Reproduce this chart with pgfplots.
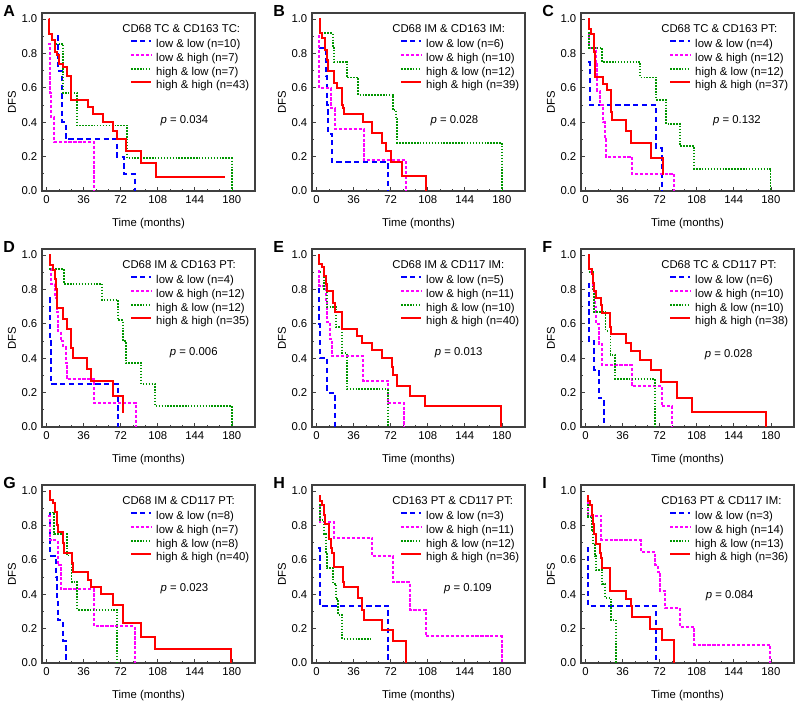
\documentclass[border=0pt]{standalone}
\usepackage{pgfplots}
\pgfplotsset{compat=1.18}
\usepackage{fontspec}
\setmainfont{Liberation Sans}

\definecolor{kmblue}{RGB}{0,0,255}
\definecolor{kmmag}{RGB}{255,0,255}
\definecolor{kmgreen}{RGB}{0,150,0}
\definecolor{kmred}{RGB}{255,0,0}
\newcommand{\fs}{\fontsize{8.5}{10}\selectfont}

\pgfplotsset{
  km/.style={
    scale only axis, width=159.75pt, height=133.5pt, anchor=south west,
    clip mode=individual,
    xmin=-4.5, xmax=202.5, ymin=0, ymax=1.035,
    xtick={0,36,72,108,144,180}, xticklabels={0,36,72,108,144,180},
    ytick={0,0.2,0.4,0.6,0.8,1.0}, yticklabels={0.0,0.2,0.4,0.6,0.8,1.0},
    minor x tick num=2, minor y tick num=1,
    tick align=inside, tick pos=left,
    major tick length=3pt, minor tick length=1.6pt,
    tick style={black!75, line width=0.5pt},
    axis line style={black!75, line width=0.8pt},
    ticklabel style={font=\fs}, label style={font=\fs},
    xlabel={Time (months)}, ylabel={DFS},
    xlabel style={at={(axis description cs:0.5,-0.185)}, anchor=center},
    ylabel style={at={(axis description cs:-0.141,0.5)}, anchor=center},
    legend style={draw=none, fill=none, font=\fs, inner sep=0pt,
      at={(axis description cs:0.413,0.855)}, anchor=north west,
      row sep=2pt, nodes={inner sep=0pt, text height=6.5pt, text depth=1.8pt},
      /tikz/every odd column/.append style={column sep=3pt}},
    legend cell align=left,
    legend image code/.code={\draw[#1] (0pt,2.6pt) -- (15pt,2.6pt);},
  },
  lb/.style={kmblue, line width=1.5pt, dash pattern=on 4pt off 2.6pt, const plot, mark=none},
  lm/.style={kmmag, line width=1.5pt, dash pattern=on 2.4pt off 1.3pt, const plot, mark=none},
  lg/.style={kmgreen, line width=1.4pt, dash pattern=on 1.1pt off 1.1pt, const plot, mark=none},
  lr/.style={kmred, line width=1.5pt, const plot, mark=none},
}
\newcommand{\ptitle}[1]{\node[anchor=base west, font=\fs, inner sep=0pt] at (axis description cs:0.376,0.891) {#1};}
\newcommand{\pletter}[1]{\node[anchor=base west, font=\fontsize{12}{14}\bfseries\selectfont, inner sep=0pt] at (axis description cs:-0.183,0.983) {#1};}
\newcommand{\pval}[3]{\node[font=\fs] at (axis cs:#1,#2) {\textit{p} = #3};}

\begin{document}
\begin{tikzpicture}
\useasboundingbox (0,0) rectangle (598.5pt,528.75pt);

% A
\begin{axis}[km, at={(31.5pt,385.5pt)}]
\addplot[lb] coordinates {(10.3,0.9)(10.8,0.7)(14.5,0.5)(15,0.4)(18.4,0.3)(68.5,0.2)(75,0.1)(85.6,0)};
\addplot[lm] coordinates {(1.6,0.857)(3.2,0.571)(4.2,0.429)(7.1,0.286)(46.2,0)};
\addplot[lg] coordinates {(8.7,0.857)(16.2,0.571)(29.7,0.381)(78.5,0.19)(180,0)};
\addplot[lr] coordinates {(2.3,1.0)(2.6,0.91)(4.8,0.88)(8.1,0.81)(10.3,0.79)(12.3,0.74)(16.2,0.72)(19.4,0.67)(23.3,0.53)(40.4,0.49)(45.2,0.45)(55,0.40)(64.6,0.35)(68.5,0.30)(77.6,0.23)(92,0.16)(106,0.08)(173,0.08)};
\legend{low \& low (n=10), low \& high (n=7), high \& low (n=7), high \& high (n=43)}
\ptitle{CD68 TC \& CD163 TC:}
\pletter{A}
\pval{134}{0.41}{0.034}
\end{axis}

% B
\begin{axis}[km, at={(234pt,385.5pt)}]
\addplot[lb] coordinates {(2.3,0.833)(9.4,0.667)(10,0.5)(11,0.333)(15.2,0.167)(69.7,0)};
\addplot[lm] coordinates {(1.6,0.9)(2.6,0.6)(14,0.48)(17.8,0.36)(46,0.18)(86.6,0)};
\addplot[lg] coordinates {(4.5,0.917)(15.5,0.833)(16.9,0.75)(29.2,0.66)(40.5,0.56)(74.3,0.47)(77.5,0.42)(78.5,0.28)(180,0)};
\addplot[lr] coordinates {(2.3,1.0)(3.2,0.92)(5.5,0.89)(8.1,0.82)(9.7,0.76)(11.4,0.70)(16.9,0.63)(19.5,0.60)(24.3,0.50)(25.6,0.48)(26.6,0.45)(45.4,0.40)(54.2,0.34)(63.2,0.28)(67.8,0.23)(72,0.17)(83.4,0.085)(106,0)};
\legend{low \& low (n=6), low \& high (n=10), high \& low (n=12), high \& high (n=39)}
\ptitle{CD68 IM \& CD163 IM:}
\pletter{B}
\pval{134}{0.41}{0.028}
\end{axis}

% C
\begin{axis}[km, at={(435.75pt,385.5pt)}]
\addplot[lb] coordinates {(2.3,0.75)(3.9,0.5)(68.7,0.25)(74.2,0)};
\addplot[lm] coordinates {(2.3,0.917)(3.2,0.833)(10.3,0.75)(11.3,0.583)(13.9,0.5)(17.1,0.4)(18.4,0.3)(19.4,0.2)(45.2,0.1)(86.1,0)};
\addplot[lg] coordinates {(2.3,0.917)(3.2,0.833)(16.1,0.75)(53.2,0.66)(68.7,0.53)(78.4,0.39)(91.9,0.26)(105.5,0.13)(179.7,0)};
\addplot[lr] coordinates {(2.3,1.0)(3.2,0.94)(5.5,0.91)(8.1,0.81)(8.7,0.66)(17.1,0.62)(20.3,0.59)(24.2,0.46)(25.8,0.41)(39.7,0.35)(44.5,0.28)(63.5,0.19)(74.8,0.10)(75.2,0.10)};
\legend{low \& low (n=4), low \& high (n=12), high \& low (n=12), high \& high (n=37)}
\ptitle{CD68 TC \& CD163 PT:}
\pletter{C}
\pval{147}{0.41}{0.132}
\end{axis}

% D
\begin{axis}[km, at={(31.5pt,208.5pt)}]
\addplot[lb] coordinates {(2.6,0.75)(3.2,0.5)(3.9,0.25)(69.5,0)};
\addplot[lm] coordinates {(2.6,0.917)(3.9,0.833)(8.1,0.75)(9.7,0.667)(11.3,0.556)(13.9,0.5)(16.2,0.463)(18.4,0.37)(19.4,0.278)(46.2,0.139)(86.6,0)};
\addplot[lg] coordinates {(2.6,0.917)(16.8,0.833)(54,0.74)(69.5,0.62)(74.3,0.50)(76.9,0.37)(92.1,0.25)(105.7,0.12)(180,0)};
\addplot[lr] coordinates {(2.6,1.0)(3.2,0.94)(5.8,0.91)(8.1,0.86)(9,0.80)(9.7,0.77)(10.3,0.69)(16.2,0.63)(19.4,0.57)(23.6,0.46)(25.9,0.40)(39.4,0.34)(42.7,0.27)(64.6,0.18)(74.3,0.09)(74.5,0.09)};
\legend{low \& low (n=4), low \& high (n=12), high \& low (n=12), high \& high (n=35)}
\ptitle{CD68 IM \& CD163 PT:}
\pletter{D}
\pval{143}{0.43}{0.006}
\end{axis}

% E
\begin{axis}[km, at={(234pt,208.5pt)}]
\addplot[lb] coordinates {(1,0.8)(2.3,0.6)(3.2,0.4)(10.4,0.2)(17.8,0)};
\addplot[lm] coordinates {(1.6,0.909)(2.6,0.818)(8.8,0.727)(10,0.61)(13.3,0.51)(15.2,0.41)(45.4,0.27)(69.7,0.14)(85.3,0)};
\addplot[lg] coordinates {(3.2,0.9)(7.5,0.8)(9.7,0.7)(18.8,0.58)(25,0.43)(29.5,0.22)(69.1,0)};
\addplot[lr] coordinates {(1.6,1.0)(2.6,0.95)(4.9,0.93)(7.5,0.88)(8.8,0.83)(9.7,0.79)(15.6,0.76)(16.2,0.72)(17.8,0.67)(24.3,0.57)(38.9,0.53)(43.8,0.49)(53.5,0.45)(63.2,0.40)(73,0.35)(74,0.30)(77.8,0.24)(90.8,0.18)(105.4,0.12)(179.4,0)};
\legend{low \& low (n=5), low \& high (n=11), high \& low (n=10), high \& high (n=40)}
\ptitle{CD68 IM \& CD117 IM:}
\pletter{E}
\pval{138}{0.43}{0.013}
\end{axis}

% F
\begin{axis}[km, at={(435.75pt,208.5pt)}]
\addplot[lb] coordinates {(2.5,0.833)(3.2,0.5)(8.2,0.333)(12.5,0.167)(17.4,0)};
\addplot[lm] coordinates {(3.2,0.9)(7.3,0.8)(8.9,0.7)(9.8,0.6)(12.7,0.48)(15.8,0.36)(44.7,0.24)(73.8,0.12)(84,0)};
\addplot[lg] coordinates {(3.2,0.9)(7.3,0.8)(8.2,0.67)(19.3,0.56)(24.1,0.42)(28.8,0.28)(67.5,0)};
\addplot[lr] coordinates {(2.5,1.0)(3.2,0.92)(6.3,0.89)(7.3,0.84)(8.2,0.79)(10.5,0.75)(15.2,0.71)(16.2,0.66)(24.1,0.58)(24.7,0.54)(39,0.49)(43.7,0.44)(53.2,0.39)(63.7,0.33)(73.2,0.26)(89,0.17)(103.3,0.09)(175.2,0)};
\legend{low \& low (n=6), low \& high (n=10), high \& low (n=10), high \& high (n=38)}
\ptitle{CD68 TC \& CD117 PT:}
\pletter{F}
\pval{139}{0.42}{0.028}
\end{axis}

% G
\begin{axis}[km, at={(31.5pt,31.5pt)}]
\addplot[lb] coordinates {(2.5,0.875)(3.2,0.625)(8.7,0.5)(9.7,0.375)(10.7,0.25)(16,0.125)(18.7,0)};
\addplot[lm] coordinates {(1.6,0.857)(3.2,0.714)(10.7,0.571)(13.6,0.429)(45.9,0.214)(85.6,0)};
\addplot[lg] coordinates {(2.6,0.875)(7.4,0.75)(19.4,0.625)(24.2,0.47)(29.7,0.31)(68.5,0)};
\addplot[lr] coordinates {(2.6,1.0)(3.2,0.95)(5.8,0.93)(8.1,0.88)(9.7,0.80)(11.3,0.76)(16.2,0.70)(17.1,0.64)(24.2,0.58)(25.2,0.53)(40.4,0.48)(43.6,0.44)(53.3,0.40)(64.6,0.34)(74.3,0.23)(92.1,0.15)(105,0.08)(179.4,0)};
\legend{low \& low (n=8), low \& high (n=7), high \& low (n=8), high \& high (n=40)}
\ptitle{CD68 IM \& CD117 PT:}
\pletter{G}
\pval{134}{0.43}{0.023}
\end{axis}

% H
\begin{axis}[km, at={(234pt,31.5pt)}]
\addplot[lb] coordinates {(1.6,0.667)(3.2,0.333)(69.7,0)};
\addplot[lm] coordinates {(2.3,0.909)(3.2,0.818)(16.9,0.727)(54.2,0.62)(74.3,0.47)(90.5,0.31)(106.1,0.155)(180,0)};
\addplot[lg] coordinates {(2.3,0.917)(3.2,0.83)(7.1,0.75)(8.8,0.64)(9.7,0.55)(16.2,0.46)(19.1,0.37)(21.1,0.28)(25,0.14)(52.5,0.14)};
\addplot[lr] coordinates {(2.3,0.97)(3.2,0.94)(5.5,0.92)(7.1,0.86)(8.1,0.81)(12,0.72)(13.6,0.67)(15.2,0.64)(16.9,0.56)(25.6,0.47)(26.6,0.44)(40.5,0.38)(44.4,0.31)(46,0.25)(63.9,0.19)(74.6,0.125)(86.6,0)};
\legend{low \& low (n=3), low \& high (n=11), high \& low (n=12), high \& high (n=36)}
\ptitle{CD163 PT \& CD117 PT:}
\pletter{H}
\pval{147}{0.43}{0.109}
\end{axis}

% I
\begin{axis}[km, at={(435.75pt,31.5pt)}]
\addplot[lb] coordinates {(1,0.667)(2.3,0.333)(68.5,0)};
\addplot[lm] coordinates {(1.6,0.929)(2.6,0.857)(15.3,0.714)(53.8,0.643)(67.8,0.571)(70.1,0.53)(72.4,0.42)(77.3,0.32)(91.3,0.21)(105.3,0.107)(179.3,0)};
\addplot[lg] coordinates {(1.6,0.92)(2.6,0.85)(6.5,0.77)(7.5,0.69)(8.8,0.62)(9.8,0.54)(16.3,0.46)(18.9,0.38)(24.5,0.25)(29.3,0)};
\addplot[lr] coordinates {(1.6,0.97)(2.6,0.94)(4.2,0.92)(6.5,0.86)(7.5,0.81)(8.5,0.75)(9.8,0.69)(14,0.64)(15.3,0.61)(16.3,0.55)(23.5,0.42)(39.1,0.375)(44,0.33)(44.7,0.27)(62.6,0.20)(74,0.135)(85.4,0)};
\legend{low \& low (n=3), low \& high (n=14), high \& low (n=13), high \& high (n=36)}
\ptitle{CD163 PT \& CD117 IM:}
\pletter{I}
\pval{140}{0.39}{0.084}
\end{axis}
\end{tikzpicture}
\end{document}
